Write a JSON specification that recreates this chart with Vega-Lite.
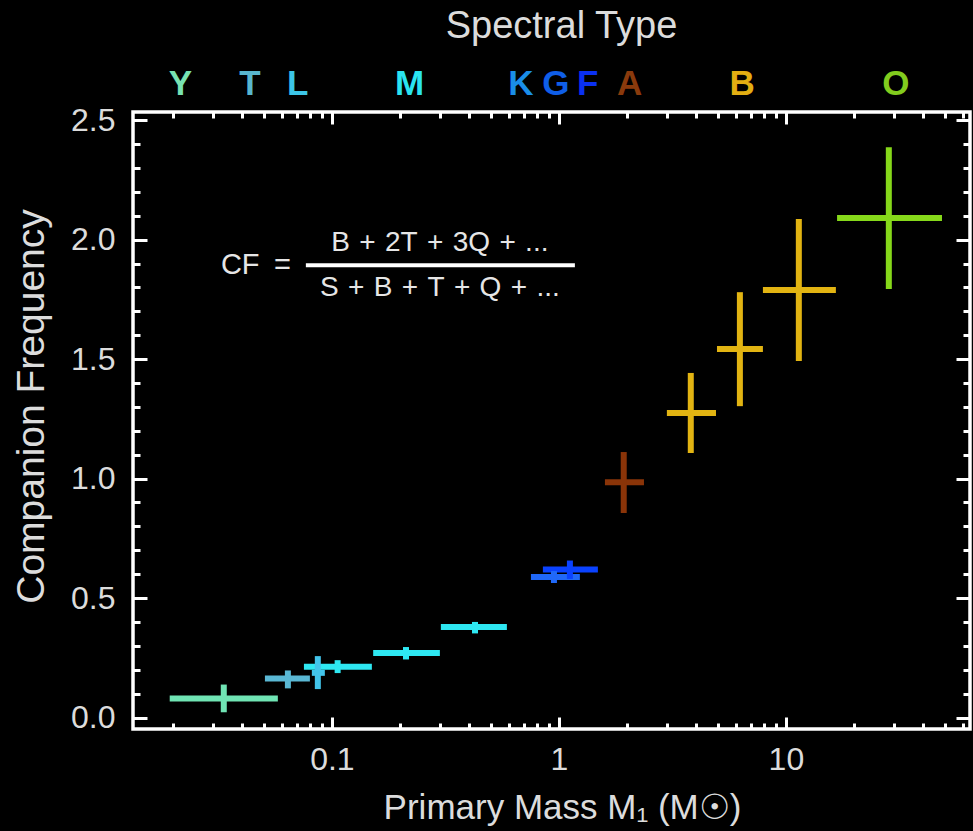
{
  "$schema": "https://vega.github.io/schema/vega-lite/v6.json",
  "background": "black",
  "autosize": {"type": "none"},
  "padding": {"left": 133, "top": 112, "right": 3, "bottom": 102},
  "width": 837,
  "height": 617,
  "config": {
    "view": {"stroke": "white", "strokeWidth": 3.5},
    "axis": {
      "grid": false, "domain": false, "tickColor": "white", "tickWidth": 3,
      "labelFont": "Liberation Sans", "titleFont": "Liberation Sans",
      "labelColor": "#dcdcdc", "titleColor": "#dcdcdc", "titleFontWeight": "normal",
      "labelOverlap": false, "labelFlush": false
    }
  },
  "datasets": {
    "pts": [
      {"type": "Y", "x": 0.0334, "xlo": 0.0193, "xhi": 0.0578, "y": 0.08, "ylo": 0.022, "yhi": 0.138},
      {"type": "T", "x": 0.064, "xlo": 0.0507, "xhi": 0.080, "y": 0.163, "ylo": 0.122, "yhi": 0.197},
      {"type": "L", "x": 0.0867, "xlo": 0.0816, "xhi": 0.0931, "y": 0.187, "ylo": 0.119, "yhi": 0.257},
      {"type": "M", "x": 0.106, "xlo": 0.0753, "xhi": 0.150, "y": 0.213, "ylo": 0.186, "yhi": 0.24},
      {"type": "M", "x": 0.212, "xlo": 0.152, "xhi": 0.299, "y": 0.27, "ylo": 0.243, "yhi": 0.295},
      {"type": "M", "x": 0.427, "xlo": 0.302, "xhi": 0.590, "y": 0.379, "ylo": 0.352, "yhi": 0.40},
      {"type": "K", "x": 0.951, "xlo": 0.753, "xhi": 1.237, "y": 0.588, "ylo": 0.563, "yhi": 0.613},
      {"type": "G", "x": 1.118, "xlo": 0.850, "xhi": 1.485, "y": 0.619, "ylo": 0.58, "yhi": 0.657},
      {"type": "A", "x": 1.93, "xlo": 1.595, "xhi": 2.37, "y": 0.985, "ylo": 0.856, "yhi": 1.111},
      {"type": "B", "x": 3.81, "xlo": 2.99, "xhi": 4.92, "y": 1.274, "ylo": 1.107, "yhi": 1.442},
      {"type": "B", "x": 6.27, "xlo": 4.97, "xhi": 7.92, "y": 1.542, "ylo": 1.303, "yhi": 1.78},
      {"type": "B", "x": 11.4, "xlo": 7.92, "xhi": 16.6, "y": 1.789, "ylo": 1.492, "yhi": 2.086},
      {"type": "O", "x": 28.4, "xlo": 16.8, "xhi": 48.7, "y": 2.09, "ylo": 1.793, "yhi": 2.387}
    ],
    "letters": [
      {"letter": "Y", "mass": 0.0215},
      {"letter": "T", "mass": 0.0436},
      {"letter": "L", "mass": 0.0707},
      {"letter": "M", "mass": 0.22},
      {"letter": "K", "mass": 0.68},
      {"letter": "G", "mass": 0.97},
      {"letter": "F", "mass": 1.34},
      {"letter": "A", "mass": 2.05},
      {"letter": "B", "mass": 6.41},
      {"letter": "O", "mass": 30.5}
    ]
  },
  "layer": [
    {
      "data": {"name": "pts"},
      "mark": {"type": "rule", "strokeWidth": 6, "strokeCap": "butt"},
      "encoding": {
        "x": {"field": "xlo", "type": "quantitative",
              "scale": {"type": "log", "domain": [0.0133, 64.7], "nice": false},
              "axis": {"orient": "bottom", "values": [0.1, 1, 10], "format": "~g", "tickSize": -12,
                       "labelFontSize": 32, "labelPadding": 27,
                       "title": "Primary Mass M₁ (M☉)", "titleFontSize": 35,
                       "titleX": 429, "titleY": 89, "titleBaseline": "alphabetic", "titleAlign": "center"}},
        "x2": {"field": "xhi"},
        "y": {"field": "y", "type": "quantitative",
              "scale": {"domain": [-0.048, 2.534], "nice": false, "zero": false},
              "axis": {"orient": "left", "values": [0, 0.5, 1, 1.5, 2, 2.5], "format": ".1f", "tickSize": -14,
                       "labelFontSize": 32, "labelPadding": 32,
                       "title": "Companion Frequency", "titleFontSize": 39,
                       "titleX": -90, "titleY": 294, "titleBaseline": "alphabetic", "titleAlign": "center", "titleAngle": 270}},
        "stroke": {"field": "type", "type": "nominal", "legend": null,
                   "scale": {"domain": ["Y", "T", "L", "M", "K", "G", "A", "B", "O"],
                             "range": ["#70e4b4", "#5ab8d4", "#42c4ea", "#2ee8f2", "#2068f8", "#0a42ff", "#8a3408", "#e2b412", "#86d81a"]}}
      }
    },
    {
      "data": {"name": "pts"},
      "mark": {"type": "rule", "strokeWidth": 6, "strokeCap": "butt"},
      "encoding": {
        "x": {"field": "x", "type": "quantitative",
              "scale": {"type": "log", "domain": [0.0133, 64.7], "nice": false},
              "axis": {"orient": "bottom", "values": [0.02, 0.03, 0.04, 0.05, 0.06, 0.07, 0.08, 0.09, 0.2, 0.3, 0.4, 0.5, 0.6, 0.7, 0.8, 0.9, 2, 3, 4, 5, 6, 7, 8, 9, 20, 30, 40, 50, 60],
                       "tickSize": -6, "labels": false, "title": null}},
        "y": {"field": "ylo", "type": "quantitative",
              "scale": {"domain": [-0.048, 2.534], "nice": false, "zero": false},
              "axis": {"orient": "left", "values": [0.1, 0.2, 0.3, 0.4, 0.6, 0.7, 0.8, 0.9, 1.1, 1.2, 1.3, 1.4, 1.6, 1.7, 1.8, 1.9, 2.1, 2.2, 2.3, 2.4],
                       "tickSize": -7, "labels": false, "title": null}},
        "y2": {"field": "yhi"},
        "stroke": {"field": "type", "type": "nominal", "legend": null,
                   "scale": {"domain": ["Y", "T", "L", "M", "K", "G", "A", "B", "O"],
                             "range": ["#70e4b4", "#5ab8d4", "#42c4ea", "#2ee8f2", "#2068f8", "#0a42ff", "#8a3408", "#e2b412", "#86d81a"]}}
      }
    },
    {
      "data": {"name": "letters"},
      "mark": {"type": "text", "font": "Liberation Sans", "fontWeight": "bold", "fontSize": 35, "align": "center", "baseline": "alphabetic"},
      "encoding": {
        "x": {"field": "mass", "type": "quantitative",
              "scale": {"type": "log", "domain": [0.0133, 64.7], "nice": false},
              "axis": {"orient": "top", "values": [0.1, 1, 10], "tickSize": -12, "labels": false,
                       "title": "Spectral Type", "titleFontSize": 38,
                       "titleX": 428, "titleY": -75, "titleBaseline": "alphabetic", "titleAlign": "center"}},
        "y": {"datum": 2.605, "type": "quantitative",
              "scale": {"domain": [-0.048, 2.534], "nice": false, "zero": false},
              "axis": {"orient": "right", "values": [0, 0.5, 1, 1.5, 2, 2.5], "tickSize": -14, "labels": false, "title": null}},
        "text": {"field": "letter", "type": "nominal"},
        "fill": {"field": "letter", "type": "nominal", "legend": null,
                 "scale": {"domain": ["Y", "T", "L", "M", "K", "G", "F", "A", "B", "O"],
                           "range": ["#78e2b2", "#58b6ce", "#3cc6e8", "#2ae4f0", "#1a8ee8", "#0f5ee8", "#0a30f2", "#8a3a0c", "#e2ae12", "#82cc1e"]}}
      }
    },
    {
      "data": {"values": [{}]},
      "mark": {"type": "text", "font": "Liberation Sans", "fontSize": 29, "align": "center", "baseline": "middle", "color": "#e6e6e6"},
      "encoding": {
        "x": {"datum": 0.0463, "type": "quantitative",
              "scale": {"type": "log", "domain": [0.0133, 64.7], "nice": false},
              "axis": {"orient": "top", "values": [0.02, 0.03, 0.04, 0.05, 0.06, 0.07, 0.08, 0.09, 0.2, 0.3, 0.4, 0.5, 0.6, 0.7, 0.8, 0.9, 2, 3, 4, 5, 6, 7, 8, 9, 20, 30, 40, 50, 60],
                       "tickSize": -6, "labels": false, "title": null}},
        "y": {"datum": 1.893, "type": "quantitative",
              "scale": {"domain": [-0.048, 2.534], "nice": false, "zero": false},
              "axis": {"orient": "right", "values": [0.1, 0.2, 0.3, 0.4, 0.6, 0.7, 0.8, 0.9, 1.1, 1.2, 1.3, 1.4, 1.6, 1.7, 1.8, 1.9, 2.1, 2.2, 2.3, 2.4],
                       "tickSize": -7, "labels": false, "title": null}},
        "text": {"value": "CF\u2002="}
      }
    },
    {
      "data": {"values": [{}]},
      "mark": {"type": "text", "font": "Liberation Sans", "fontSize": 28, "align": "center", "baseline": "middle", "color": "#e6e6e6"},
      "encoding": {
        "x": {"datum": 0.299, "type": "quantitative", "scale": {"type": "log", "domain": [0.0133, 64.7], "nice": false}, "axis": null},
        "y": {"datum": 1.985, "type": "quantitative", "scale": {"domain": [-0.048, 2.534], "nice": false, "zero": false}, "axis": null},
        "text": {"value": "B\u2004+\u20042T\u2004+\u20043Q\u2004+\u2004..."}
      }
    },
    {
      "data": {"values": [{}]},
      "mark": {"type": "text", "font": "Liberation Sans", "fontSize": 28, "align": "center", "baseline": "middle", "color": "#e6e6e6"},
      "encoding": {
        "x": {"datum": 0.299, "type": "quantitative", "scale": {"type": "log", "domain": [0.0133, 64.7], "nice": false}, "axis": null},
        "y": {"datum": 1.797, "type": "quantitative", "scale": {"domain": [-0.048, 2.534], "nice": false, "zero": false}, "axis": null},
        "text": {"value": "S\u2004+\u2004B\u2004+\u2004T\u2004+\u2004Q\u2004+\u2004..."}
      }
    },
    {
      "data": {"values": [{}]},
      "mark": {"type": "rule", "strokeWidth": 4, "color": "white", "strokeCap": "butt"},
      "encoding": {
        "x": {"datum": 0.0768, "type": "quantitative", "scale": {"type": "log", "domain": [0.0133, 64.7], "nice": false}, "axis": null},
        "x2": {"datum": 1.176},
        "y": {"datum": 1.893, "type": "quantitative", "scale": {"domain": [-0.048, 2.534], "nice": false, "zero": false}, "axis": null}
      }
    }
  ],
  "resolve": {"axis": {"x": "independent", "y": "independent"}}
}
